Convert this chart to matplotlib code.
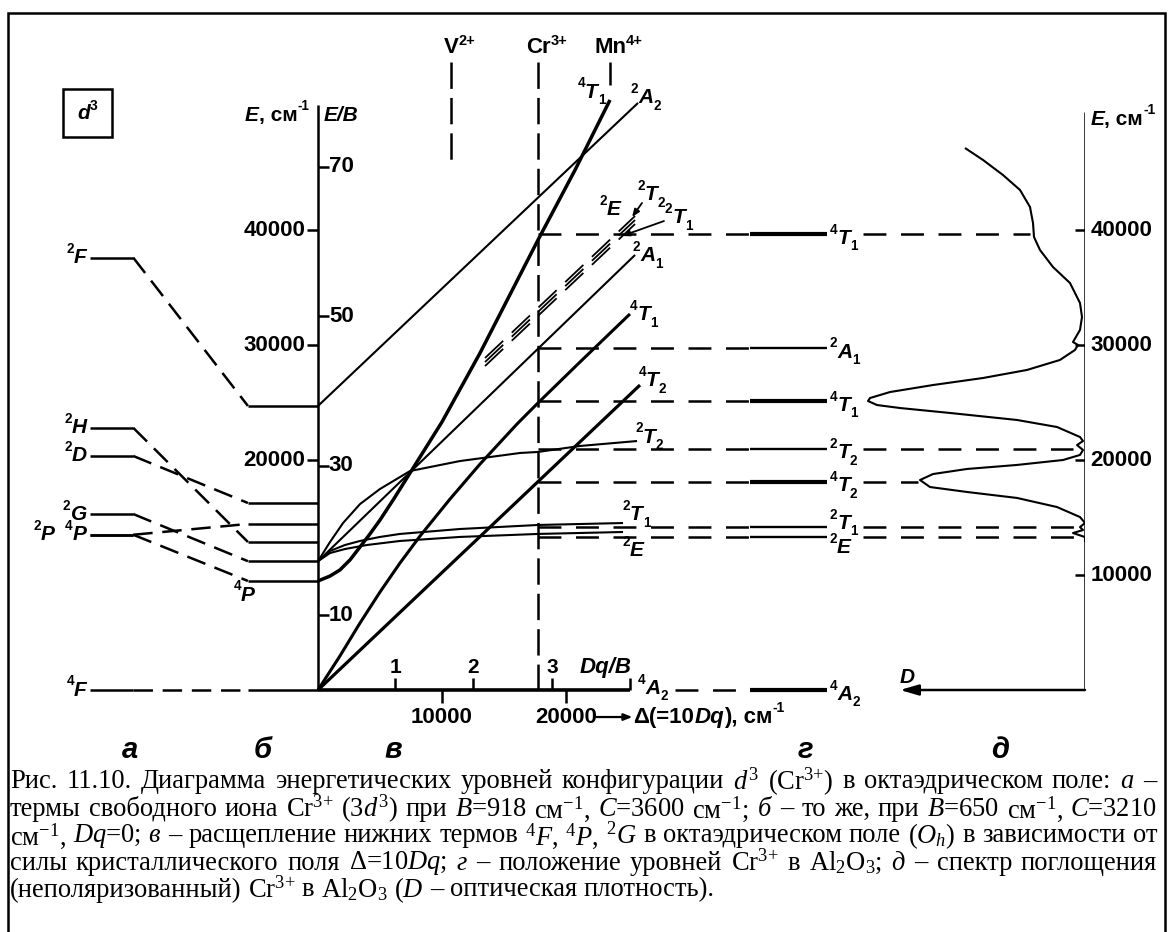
import matplotlib
matplotlib.use('Agg')
import matplotlib.pyplot as plt
from matplotlib.patches import Rectangle

plt.rcParams['font.family'] = ['Liberation Sans', 'DejaVu Sans']
plt.rcParams['lines.scale_dashes'] = False
plt.rcParams['lines.solid_capstyle'] = 'butt'
plt.rcParams['lines.dash_capstyle'] = 'butt'
plt.rcParams['mathtext.fontset'] = 'custom'
plt.rcParams['mathtext.rm'] = 'Liberation Serif'
plt.rcParams['mathtext.it'] = 'Liberation Serif:italic'
plt.rcParams['mathtext.bf'] = 'Liberation Serif:bold'

# ---------------- data (energies E in cm^-1, Delta in cm^-1) ----------------
# a: free ion terms (B=918), б: same terms with B=650, C=3210
free_terms = [('2', 'F'), ('2', 'H'), ('2', 'D'), ('2', 'G'), ('2', 'P'), ('4', 'P'), ('4', 'F')]
free_E = [37600, 22800, 20350, 15300, 13500, 13500, 0]
ion_E = [24700, 12870, 16260, 11200, 14440, 9480, 0]
B_ion = 650

# в: Tanabe-Sugano type lines
q4A2_D = [0, 25160]
q4A2_E = [0, 0]
q4T2_D = [0, 25970]
q4T2_E = [0, 26520]
q4T1F_D = [0, 1770, 3390, 5000, 6610, 8230, 10650, 13070, 16050, 17740, 21130, 25160]
q4T1F_E = [0, 2960, 5830, 8520, 11040, 13390, 16610, 19650, 23130, 24960, 28520, 32700]
q4T1P_D = [0, 970, 1770, 2580, 3390, 4190, 5000, 6210, 7420, 10000, 13070, 17740, 20730, 23550]
q4T1P_E = [9480, 9910, 10440, 11310, 12440, 13570, 14780, 16780, 18870, 23310, 29310, 39130, 45220, 51310]
d2A2_D = [0, 25810]
d2A2_E = [24700, 51050]
d2A1_D = [0, 25570]
d2A1_E = [11200, 37830]
d2T2_D = [0, 970, 2020, 3390, 5000, 7420, 11450, 16290, 17740, 21130, 25730]
d2T2_E = [11200, 12870, 14520, 16170, 17480, 19040, 19910, 20610, 20700, 21220, 21650]
d2T1_D = [0, 970, 2180, 3390, 5000, 6610, 11450, 17740, 24600]
d2T1_E = [11200, 12090, 12610, 12960, 13310, 13570, 14000, 14350, 14520]
d2E_D = [0, 970, 2180, 3950, 6610, 11450, 17740, 24600]
d2E_E = [11200, 11910, 12260, 12610, 12960, 13310, 13570, 13740]
band_D = [13470, 25570]          # upper 2E, 2T1, 2T2 (dashed triple)
band_E = [28520, 40870]
band_off = [-350, 0, 350]

ion_D = [10730, 17740, 23550]     # V2+, Cr3+, Mn4+
ion_names = [('V', '2+'), ('Cr', '3+'), ('Mn', '4+')]
dqb_ticks = [6210, 12500, 18870]
dqb_labels = ['1', '2', '3']
delta_ticks = [10000, 20000]
E_ticks = [20000, 30000, 40000]
EB_ticks = [10, 30, 50, 70]
E_ticks_right = [10000, 20000, 30000, 40000]

# г: levels of Cr3+ in Al2O3
ruby_terms = [('4', 'T', '1'), ('2', 'A', '1'), ('4', 'T', '1'), ('2', 'T', '2'),
              ('4', 'T', '2'), ('2', 'T', '1'), ('2', 'E', ''), ('4', 'A', '2')]
ruby_E = [39650, 29740, 25130, 20960, 18090, 14170, 13300, 0]
ruby_quartet = [True, False, True, False, True, False, False, True]
ruby_right_end = [57420, None, None, 60890, 48390, 61050, 61050, None]

# д: absorption spectrum (E, optical density D)
spec_E = [47130, 46090, 44780, 43480, 42000, 40610, 39390, 38260, 36780, 35390,
          33650, 32440, 31310, 30260, 30000, 29570, 28700, 27830, 27130, 26520,
          25910, 25390, 25130, 24780, 24520, 24090, 23480, 22870, 22000, 21650,
          21300, 20870, 20440, 20000, 19570, 19220, 18780, 18260, 17650, 17220,
          16700, 15910, 15040, 14520, 14170, 13910, 13650, 13300, 12870]
spec_D = [1.20, 1.02, 0.82, 0.65, 0.55, 0.52, 0.51, 0.45, 0.32, 0.15,
          0.05, 0.03, 0.05, 0.12, 0.07, 0.10, 0.25, 0.58, 1.02, 1.52,
          1.95, 2.15, 2.17, 2.08, 1.85, 1.35, 0.68, 0.28, 0.05, 0.02,
          0.08, 0.02, 0.05, 0.22, 0.68, 1.18, 1.52, 1.65, 1.55, 1.18,
          0.68, 0.28, 0.05, 0.00, 0.05, 0.02, 0.12, 0.00, 0.00]

caption = [
    r'Рис. 11.10. Диаграмма энергетических уровней конфигурации $d^3$ (Cr$^{3{+}}$) в октаэдрическом поле: $а$ –',
    r'термы свободного иона Cr$^{3{+}}$ (3$d^3$) при $B$=918 см$^{-1}$, $C$=3600 см$^{-1}$; $б$ – то же, при $B$=650 см$^{-1}$, $C$=3210',
    r'см$^{-1}$, $Dq$=0; $в$ – расщепление нижних термов $^4F$, $^4P$, $^2G$ в октаэдрическом поле ($O_h$) в зависимости от',
    r'силы кристаллического поля Δ=10$Dq$; $г$ – положение уровней Cr$^{3{+}}$ в Al$_2$O$_3$; $д$ – спектр поглощения',
    r'(неполяризованный) Cr$^{3{+}}$ в Al$_2$O$_3$ ($D$ – оптическая плотность).',
]

# ---------------- figure ----------------
fig = plt.figure(figsize=(11.73, 9.32), dpi=100)
ax = fig.add_axes([0, 0, 1, 1])
ax.set_xlim(-25645, 68952)
ax.set_ylim(-21043, 60000)
ax.axis('off')

K = 'black'
DASH_H = (0, (16.5, 10.5))
DASH_V = (0, (19, 6.5))
DASH_C = (0, (14, 7))


def term(x, y, pre, letter, sub='', size=15, ha='left', va='center', a=None):
    a = a or ax
    t = a.text(x, y, letter, fontsize=size, fontweight='bold', fontstyle='italic',
               ha=ha, va=va, color=K)
    if pre:
        a.annotate(pre, xy=(0, 0.58), xycoords=t, ha='right', va='bottom',
                   fontsize=size * 0.65, fontweight='bold')
    if sub:
        a.annotate(sub, xy=(1, 0.1), xycoords=t, ha='left', va='center',
                   fontsize=size * 0.65, fontweight='bold')
    return t


def unit_label(x, y, size=15):
    t1 = ax.text(x, y, 'E', fontsize=size, fontweight='bold', fontstyle='italic', va='center')
    t2 = ax.annotate(', см', xy=(1, 0), xycoords=t1, va='bottom', ha='left',
                     fontsize=size, fontweight='bold')
    ax.annotate('-1', xy=(1, 0.62), xycoords=t2, va='bottom', ha='left',
                fontsize=size * 0.65, fontweight='bold')


# frame
ax.add_patch(Rectangle((8 / 1173, -0.02), 1157 / 1173, 1.02 - 13 / 932,
                       transform=ax.transAxes, fill=False, lw=1.8, ec=K, clip_on=False))

# d3 box
ax.add_patch(Rectangle((-20570, 48090), 3950, 4170, fill=False, lw=1.8, ec=K))
td = ax.text(-18900, 50100, 'd', fontsize=15, fontweight='bold', fontstyle='italic',
             ha='center', va='center')
ax.annotate('3', xy=(1, 0.55), xycoords=td, fontsize=10, fontweight='bold', va='bottom')

# ---- panels a and б ----
A_X = (-18400, -14900)
B_X = (-5650, 0)
for (pre, let), ea, eb in zip(free_terms, free_E, ion_E):
    ax.plot(A_X, [ea, ea], color=K, lw=1.8)
    ax.plot([A_X[1], B_X[0]], [ea, eb], color=K, lw=1.8, ls=DASH_C)
    ax.plot(B_X, [eb, eb], color=K, lw=1.8)
for (pre, let), ea in zip(free_terms, free_E):
    if let == 'P' and pre == '2':
        term(-21250, ea, pre, let, ha='right')
    else:
        term(-18650, ea, pre, let, ha='right')
term(-6200, 8260, '4', 'P')

# ---- left axis ----
ax.plot([0, 0], [0, 50870], color=K, lw=1.8)
for e in E_ticks:
    ax.plot([-900, 0], [e, e], color=K, lw=1.8)
    ax.text(-1000, e, f'{e}', fontsize=16, fontweight='bold', ha='right', va='center')
for v in EB_ticks:
    e = v * B_ion
    ax.plot([0, 900], [e, e], color=K, lw=1.8)
    ax.text(880, e, f'{v}', fontsize=16, fontweight='bold', ha='left', va='center')
unit_label(-5900, 50000)
ax.text(480, 50000, 'E/B', fontsize=15, fontweight='bold', fontstyle='italic', va='center')

# ---- panel в ----
ax.plot(q4A2_D, q4A2_E, color=K, lw=2.6)
for d in delta_ticks:
    ax.plot([d, d], [0, -1130], color=K, lw=1.8)
    ax.text(d, -2350, f'{d}', fontsize=16, fontweight='bold', ha='center', va='center')
for d, lab in zip(dqb_ticks, dqb_labels):
    ax.plot([d, d], [0, 1050], color=K, lw=1.8)
    ax.text(d, 1950, lab, fontsize=15, fontweight='bold', ha='center', va='center')
ax.plot([q4A2_D[1], q4A2_D[1]], [0, 1050], color=K, lw=1.8)
ax.text(21100, 1950, 'Dq/B', fontsize=16, fontweight='bold', fontstyle='italic', va='center')
ax.annotate('', xy=(25350, -2350), xytext=(22450, -2350),
            arrowprops=dict(arrowstyle='-|>,head_length=0.5,head_width=0.2', lw=1.6, color=K,
                            shrinkA=0, shrinkB=0))
t1 = ax.text(25450, -2350, 'Δ(=10', fontsize=16, fontweight='bold', va='center')
t2 = ax.annotate('Dq', xy=(1, 0), xycoords=t1, va='bottom', fontsize=16, fontweight='bold',
                 fontstyle='italic')
t3 = ax.annotate('), см', xy=(1, 0), xycoords=t2, va='bottom', fontsize=16, fontweight='bold')
ax.annotate('-1', xy=(1, 0.62), xycoords=t3, va='bottom', fontsize=10, fontweight='bold')

# ion markers
for d, (base, sup) in zip(ion_D, ion_names):
    tb = ax.text(d, 55830, base, fontsize=16, fontweight='bold', ha='center', va='center')
    ax.annotate(sup, xy=(1, 0.5), xycoords=tb, fontsize=10.5, fontweight='bold', va='bottom')
ax.plot([ion_D[0]] * 2, [54610, 45830], color=K, lw=1.8, ls=DASH_V)
ax.plot([ion_D[1]] * 2, [54610, 0], color=K, lw=1.8, ls=DASH_V)
ax.plot([ion_D[2]] * 2, [54610, 52610], color=K, lw=1.8)

# curves
ax.plot(d2A2_D, d2A2_E, color=K, lw=1.5)
ax.plot(d2A1_D, d2A1_E, color=K, lw=1.5)
ax.plot(d2T2_D, d2T2_E, color=K, lw=1.5)
ax.plot(d2T1_D, d2T1_E, color=K, lw=1.5)
ax.plot(d2E_D, d2E_E, color=K, lw=1.5)
ax.plot(q4T2_D, q4T2_E, color=K, lw=2.3)
ax.plot(q4T1F_D, q4T1F_E, color=K, lw=2.2)
ax.plot(q4T1P_D, q4T1P_E, color=K, lw=2.5)
for off in band_off:
    ax.plot(band_D, [e + off for e in band_E], color=K, lw=1.3, ls=(0, (18, 8.5)))

ax.annotate('', xy=(25330, 41130), xytext=(26130, 42350),
            arrowprops=dict(arrowstyle='-|>,head_length=0.45,head_width=0.18', lw=1.3, color=K,
                            shrinkA=0, shrinkB=0))
ax.annotate('', xy=(24520, 39480), xytext=(27900, 40780),
            arrowprops=dict(arrowstyle='-|>,head_length=0.45,head_width=0.18', lw=1.3, color=K,
                            shrinkA=0, shrinkB=0))

term(21530, 52000, '4', 'T', '1')
term(25810, 51480, '2', 'A', '2')
term(23310, 41740, '2', 'E')
term(26370, 43050, '2', 'T', '2')
term(28550, 41050, '2', 'T', '1')
term(25970, 37740, '2', 'A', '1')
term(25730, 32610, '4', 'T', '1')
term(26450, 26870, '4', 'T', '2')
term(26210, 22000, '2', 'T', '2')
term(25160, 15220, '2', 'T', '1')
term(25160, 12170, '2', 'E')
term(26370, 100, '4', 'A', '2')

# ---- panel г ----
G_X = (34840, 41050)
for (pre, let, sub), e, quart, rend in zip(ruby_terms, ruby_E, ruby_quartet, ruby_right_end):
    start = ion_D[1] if e > 0 else 28790
    ax.plot([start, G_X[0]], [e, e], color=K, lw=1.8, ls=DASH_H)
    ax.plot(G_X, [e, e], color=K, lw=3.0 if quart else 1.7)
    if rend is not None:
        ax.plot([43950, rend], [e, e], color=K, lw=1.8, ls=DASH_H)
    dy = -350
    if let == 'T' and pre == '2' and sub == '1':
        dy = 350
    if let == 'E':
        dy = -900
    term(41860, e + dy, pre, let, sub)

# ---- panel д (spectrum) ----
axd = fig.add_axes([800 / 1173, 0, 285 / 1173, 1])
axd.set_xlim(2.85, 0)
axd.set_ylim(-21043, 60000)
axd.axis('off')
axd.patch.set_alpha(0)
axd.plot(spec_D, spec_E, color=K, lw=1.5)
axd.plot([0, 0], [0, 50260], color=K, lw=1.8)
for e in E_ticks_right:
    axd.plot([0, 0.1], [e, e], color=K, lw=1.8)
    ax.text(62300, e, f'{e}', fontsize=16, fontweight='bold', ha='left', va='center')
axd.annotate('', xy=(1.85, 0), xytext=(0, 0),
             arrowprops=dict(arrowstyle='-|>,head_length=1.1,head_width=0.32', lw=1.8, color=K,
                             shrinkA=0, shrinkB=0))
axd.text(1.85, 1100, 'D', fontsize=15, fontweight='bold', fontstyle='italic', ha='left',
         va='center')
t1 = ax.text(62300, 49650, 'E', fontsize=15, fontweight='bold', fontstyle='italic', va='center')
t2 = ax.annotate(', см', xy=(1, 0), xycoords=t1, va='bottom', fontsize=15, fontweight='bold')
ax.annotate('-1', xy=(1, 0.62), xycoords=t2, va='bottom', fontsize=10, fontweight='bold')

# panel letters
for x, lab in zip([-15160, -4440, 6050, 39280, 55000], ['а', 'б', 'в', 'г', 'д']):
    ax.text(x, -5220, lab, fontsize=21, fontweight='bold', fontstyle='italic',
            ha='center', va='center')

# caption, justified like the book text
renderer = fig.canvas.get_renderer()
x_left, x_right = 10, 1157
for i, line in enumerate(caption):
    y = 1 - (782 + 27 * i) / 932
    words = line.split(' ')
    texts = [fig.text(0, y, w, fontsize=19.1, family='Liberation Serif', va='center', ha='left')
             for w in words]
    widths = [t.get_window_extent(renderer).width for t in texts]
    if i < len(caption) - 1:
        gap = (x_right - x_left - sum(widths)) / (len(words) - 1)
    else:
        gap = 6.5
    x = x_left
    for t, w in zip(texts, widths):
        t.set_x(x / 1173)
        x += w + gap

fig.savefig('out.png', dpi=100)
